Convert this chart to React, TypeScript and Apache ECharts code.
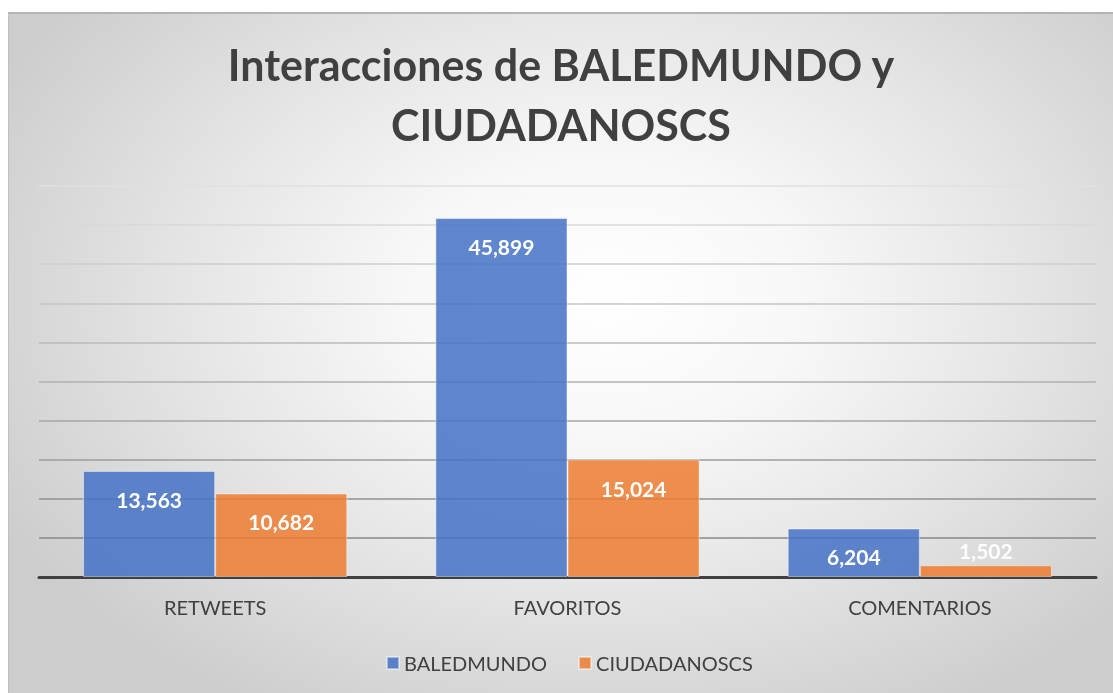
import React, { useEffect, useRef } from "react";
import * as echarts from "echarts";

const categories = ["RETWEETS", "FAVORITOS", "COMENTARIOS"];
const seriesNames = ["BALEDMUNDO", "CIUDADANOSCS"];
const baledmundo = [13563, 45899, 6204];
const ciudadanoscs = [10682, 15024, 1502];
const titleLines = ["Interacciones de BALEDMUNDO y", "CIUDADANOSCS"];

const FONT = "Lato, 'Open Sans', sans-serif";
const gridColors = [
  "#7f7f7f", "#888888", "#929292", "#9c9c9c", "#a6a6a6", "#b0b0b0",
  "#bababa", "#c4c4c4", "#cecece", "#d8d8d8", "#e0e0e0",
];

export default function App() {
  const ref = useRef<HTMLDivElement>(null);
  useEffect(() => {
    if (!ref.current) return;
    const chart = echarts.init(ref.current, undefined, { renderer: "svg" });
    const labelBase = {
      show: true,
      position: "insideTop",
      distance: 18,
      color: "#ffffff",
      fontFamily: FONT,
      fontWeight: "bold",
      fontSize: 21,
      formatter: (p: any) => Number(p.value).toLocaleString("en-US"),
    };
    const mk = (vals: number[]) =>
      vals.map((v) =>
        v < 3000
          ? { value: v, label: { position: "top", distance: 4, color: "rgba(255,255,255,0.95)" } }
          : v
      );
    chart.setOption({
      animation: false,
      backgroundColor: "transparent",
      title: {
        text: titleLines.join("\n"),
        left: "center",
        top: 15,
        textStyle: {
          fontFamily: FONT,
          fontWeight: "bold",
          fontSize: 43,
          lineHeight: 60,
          color: "#404040",
        },
      },
      legend: {
        data: seriesNames,
        left: 377,
        top: 639,
        padding: 0,
        itemWidth: 12,
        itemHeight: 12,
        itemGap: 31,
        icon: "rect",
        textStyle: { fontFamily: FONT, fontSize: 20, color: "#404040" },
      },
      grid: { left: 30, right: 17, top: 172, bottom: 116, containLabel: false },
      xAxis: {
        type: "category",
        data: categories,
        axisLine: { show: true, lineStyle: { color: "#404040", width: 3 } },
        axisTick: { show: false },
        axisLabel: { margin: 20, fontFamily: FONT, fontSize: 20, color: "#404040" },
      },
      yAxis: {
        type: "value",
        min: 0,
        max: 50000,
        interval: 5000,
        axisLabel: { show: false },
        axisLine: { show: false },
        axisTick: { show: false },
        splitLine: { show: true, lineStyle: { color: gridColors, width: 1.5 } },
      },
      series: [
        {
          name: seriesNames[0],
          type: "bar",
          data: mk(baledmundo),
          barGap: "0%",
          barCategoryGap: "25%",
          itemStyle: { color: "rgba(68,114,196,0.85)", borderColor: "rgba(255,255,255,0.45)", borderWidth: 1 },
          label: labelBase,
        },
        {
          name: seriesNames[1],
          type: "bar",
          data: mk(ciudadanoscs),
          barGap: "0%",
          barCategoryGap: "25%",
          itemStyle: { color: "rgba(237,125,49,0.85)", borderColor: "rgba(255,255,255,0.45)", borderWidth: 1 },
          label: labelBase,
        },
      ],
    });
    return () => chart.dispose();
  }, []);
  return (
    <div
      style={{
        position: "fixed",
        left: 8,
        top: 12,
        width: 1105,
        height: 681,
        boxSizing: "border-box",
        borderTop: "2px solid #b4b4b4",
        borderLeft: "1px solid #c0c0c0",
        background:
          "radial-gradient(ellipse 62% 70% at 54% 42%, #ffffff 0%, #f7f7f7 30%, #e6e6e6 60%, #cdcdcd 100%)",
      }}
    >
      <div ref={ref} style={{ width: "100%", height: "100%" }} />
    </div>
  );
}
